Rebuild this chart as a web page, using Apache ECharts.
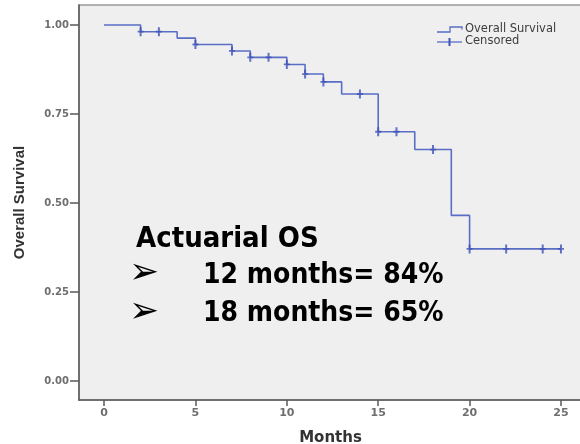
<!DOCTYPE html>
<html>
<head>
<meta charset="utf-8">
<script src="https://cdn.jsdelivr.net/npm/echarts@6/dist/echarts.min.js"></script>
<style>
  html, body { margin: 0; padding: 0; background: #ffffff; }
  #chart { width: 580px; height: 444px; }
</style>
</head>
<body>
<div id="chart"></div>
<script>
// Kaplan-Meier overall survival: step times (months) and survival level after each step
const survTimes  = [0, 2, 4, 5, 7, 8, 10, 11, 12, 13, 15, 17, 19, 20, 25];
const survValues = [1.000, 0.981, 0.963, 0.945, 0.927, 0.909, 0.889, 0.862, 0.840, 0.806, 0.700, 0.650, 0.465, 0.371, 0.371];

// Censored observations (months) and the survival level where each is marked
const censorTimes  = [2, 3, 5, 7, 8, 9, 10, 11, 12, 14, 15, 16, 18, 20, 22, 24, 25];
const censorValues = [0.981, 0.981, 0.945, 0.927, 0.909, 0.909, 0.889, 0.862, 0.840, 0.806, 0.700, 0.700, 0.650, 0.371, 0.371, 0.371, 0.371];

// Tick labels
const xTicks = [0, 5, 10, 15, 20, 25];
const yTicks = [0, 0.25, 0.5, 0.75, 1.0];

// Summary text
const summaryTitle = 'Actuarial OS';
const summaryLines = ['12 months= 84%', '18 months= 65%'];
const legendNames = ['Overall Survival', 'Censored'];

const lineColor = '#5a6ec6';
const markColor = '#3d52b6';
const axisColor = '#5a5a5a';
const tickTextColor = '#6e6e6e';

const chart = echarts.init(document.getElementById('chart'), null, { renderer: 'canvas' });

const bigFont = "'DejaVu Sans Condensed', 'Liberation Sans', sans-serif";

const option = {
  animation: false,
  backgroundColor: '#ffffff',
  grid: {
    left: 79, top: 5, right: -2, bottom: 44,
    outerBoundsMode: 'none',
    containLabel: false,
    show: true,
    backgroundColor: '#efefef',
    borderColor: '#9a9a9a',
    borderWidth: 1.5
  },
  xAxis: {
    type: 'value',
    min: -1.37, max: 26.15,
    name: 'Months',
    nameLocation: 'middle',
    nameGap: 31,
    nameTextStyle: { fontFamily: 'DejaVu Sans', fontWeight: 'bold', fontSize: 15, color: '#333' },
    axisLine: { show: true, onZero: false, lineStyle: { color: axisColor, width: 1.5 } },
    axisTick: { show: true, inside: false, length: 6, customValues: xTicks, lineStyle: { color: axisColor, width: 1.5 } },
    axisLabel: { customValues: xTicks, margin: 8, fontFamily: 'DejaVu Sans', fontWeight: 'bold', fontSize: 11, color: tickTextColor },
    splitLine: { show: false }
  },
  yAxis: {
    type: 'value',
    min: -0.0534, max: 1.056,
    name: 'Overall Survival',
    nameLocation: 'middle',
    nameGap: 52,
    nameRotate: 90,
    nameTextStyle: { fontFamily: 'Liberation Sans', fontWeight: 'bold', fontSize: 15, color: '#333' },
    axisLine: { show: true, onZero: false, lineStyle: { color: axisColor, width: 1.5 } },
    axisTick: { show: true, inside: false, length: 9, customValues: yTicks, lineStyle: { color: axisColor, width: 1.5 } },
    axisLabel: {
      customValues: yTicks, margin: 10,
      fontFamily: 'DejaVu Sans', fontWeight: 'bold', fontSize: 10, color: tickTextColor,
      formatter: v => v.toFixed(2)
    },
    splitLine: { show: false }
  },
  series: [
    {
      name: legendNames[0],
      type: 'line',
      step: 'end',
      showSymbol: false,
      symbol: 'none',
      data: survTimes.map((t, i) => [t, survValues[i]]),
      lineStyle: { color: lineColor, width: 1.6 },
      z: 2
    },
    {
      name: legendNames[1],
      type: 'scatter',
      symbol: 'path://M2,0 L4,0 L4,10 L2,10 Z M0,4 L6,4 L6,6 L0,6 Z',
      symbolSize: [6, 9],
      itemStyle: { color: markColor },
      data: censorTimes.map((t, i) => [t, censorValues[i]]),
      z: 3
    }
  ],
  graphic: [
    // legend
    { type: 'polyline', shape: { points: [[437, 32], [450, 32], [450, 27], [462, 27], [462, 29.5]] },
      style: { stroke: lineColor, lineWidth: 1.3, fill: null } },
    { type: 'line', shape: { x1: 437, y1: 42, x2: 462, y2: 42 }, style: { stroke: lineColor, lineWidth: 1.3 } },
    { type: 'line', shape: { x1: 449.5, y1: 38, x2: 449.5, y2: 46 }, style: { stroke: markColor, lineWidth: 2 } },
    { type: 'text', left: 465, top: 23, style: { text: legendNames[0], font: '11.5px "DejaVu Sans"', fill: '#3c3c3c' } },
    { type: 'text', left: 465, top: 35, style: { text: legendNames[1], font: '11.5px "DejaVu Sans"', fill: '#3c3c3c' } },
    // summary
    { type: 'text', left: 136, top: 225, style: { text: summaryTitle, font: 'bold 29px ' + bigFont, fill: '#000' } },
    { type: 'text', left: 129, top: 256, style: { text: '\u27A2', font: '36px "DejaVu Sans"', fill: '#000' } },
    { type: 'text', left: 129, top: 295, style: { text: '\u27A2', font: '36px "DejaVu Sans"', fill: '#000' } },
    { type: 'text', left: 203, top: 262, style: { text: summaryLines[0], font: 'bold 28px ' + bigFont, fill: '#000' } },
    { type: 'text', left: 203, top: 300, style: { text: summaryLines[1], font: 'bold 28px ' + bigFont, fill: '#000' } }
  ]
};

chart.setOption(option);
</script>
</body>
</html>
